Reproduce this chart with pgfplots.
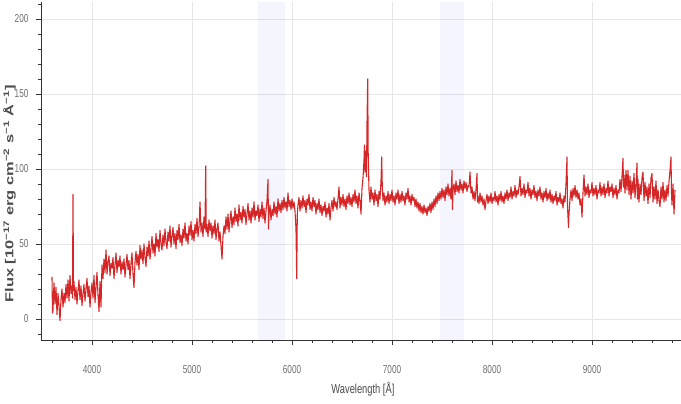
\documentclass[border=0pt]{standalone}
\usepackage{fontspec}
\setmainfont{Liberation Sans}[FakeStretch=0.72]
\newfontfamily\labfont{Liberation Sans}
\usepackage{graphicx}
\usepackage{pgfplots}
\usepackage{pgfplotstable}
\pgfplotsset{compat=1.18}
\definecolor{specred}{HTML}{D62728}
\definecolor{gridgray}{HTML}{E6E6E6}
\definecolor{tickgray}{HTML}{6E6E6E}

\pgfplotstableread{
wl flux
3600 28
3605 4
3610 6
3620 24
3630 10
3640 21
3650 3
3660 17
3670 9
3680 -1
3690 13
3700 20
3710 8
3720 17
3730 11
3740 23
3750 14
3760 26
3770 12
3780 29
3790 17
3800 22
3805 14
3810 83
3815 19
3820 25
3830 13
3840 21
3850 10
3860 19
3870 26
3880 13
3890 22
3900 9
3910 17
3920 23
3930 12
3940 20
3950 27
3960 15
3970 22
3980 8
3990 18
4000 24
4010 14
4020 29
4030 11
4040 21
4050 31
4060 16
4070 5
4080 25
4090 8
4100 36
4110 27
4120 40
4130 31
4140 46
4150 30
4160 38
4170 42
4180 29
4190 37
4200 34
4210 41
4220 27
4230 36
4240 44
4250 31
4260 39
4270 35
4280 42
4290 30
4300 38
4310 33
4320 40
4330 28
4340 36
4350 43
4360 33
4370 39
4380 27
4390 37
4400 44
4410 30
4420 21
4430 38
4440 45
4450 36
4460 43
4470 33
4480 49
4490 40
4500 46
4510 37
4520 50
4530 41
4540 35
4550 48
4560 42
4570 52
4580 40
4590 47
4600 55
4610 44
4620 50
4630 42
4640 57
4650 48
4660 53
4670 45
4680 59
4690 50
4700 46
4710 56
4720 49
4730 60
4740 51
4750 47
4760 58
4770 52
4780 62
4790 48
4800 55
4810 61
4820 50
4830 57
4840 47
4850 59
4860 53
4870 63
4880 51
4890 56
4900 49
4910 60
4920 54
4930 64
4940 52
4950 57
4960 50
4970 62
4980 56
4990 65
5000 53
5010 59
5020 52
5030 63
5040 57
5050 67
5060 55
5070 61
5080 78
5090 58
5100 64
5110 55
5120 68
5130 60
5137 102
5142 58
5150 63
5160 55
5170 66
5180 59
5190 64
5200 54
5210 62
5220 57
5230 66
5240 53
5250 60
5260 64
5270 52
5280 58
5290 49
5300 40
5310 55
5320 62
5330 57
5340 68
5350 60
5360 70
5370 58
5380 66
5390 72
5400 61
5410 68
5420 63
5430 74
5440 65
5450 70
5460 62
5470 76
5480 66
5490 71
5500 64
5510 75
5520 68
5530 73
5540 63
5550 70
5560 77
5570 66
5580 72
5590 64
5600 74
5610 68
5620 78
5630 66
5640 72
5650 69
5660 76
5670 65
5680 73
5690 68
5700 78
5710 67
5720 74
5730 64
5740 72
5750 79
5760 93
5765 60
5770 70
5780 76
5790 66
5800 73
5810 69
5820 78
5830 70
5840 75
5850 68
5860 80
5870 72
5880 77
5890 71
5900 79
5910 73
5920 81
5930 74
5940 78
5950 72
5960 84
5970 75
5980 79
5990 73
6000 80
6010 74
6020 78
6030 72
6040 60
6047 27
6053 70
6060 76
6070 81
6080 72
6090 79
6100 74
6110 82
6120 75
6130 79
6140 71
6150 80
6160 76
6170 83
6180 73
6190 78
6200 72
6210 81
6220 75
6230 79
6240 70
6250 77
6260 73
6270 80
6280 71
6290 76
6300 69
6310 75
6320 72
6330 78
6340 68
6350 74
6360 70
6370 77
6380 66
6390 74
6400 79
6410 72
6420 81
6430 75
6440 78
6450 73
6460 80
6470 88
6480 74
6490 81
6500 76
6510 83
6520 75
6530 80
6540 73
6550 82
6560 77
6570 84
6580 76
6590 81
6600 75
6610 83
6620 78
6630 86
6640 77
6650 82
6660 74
6670 84
6680 79
6690 70
6700 87
6710 94
6720 106
6725 116
6730 98
6740 112
6745 95
6750 130
6757 160
6762 110
6770 86
6780 78
6790 88
6800 80
6810 84
6820 76
6830 86
6840 79
6850 83
6860 75
6870 85
6880 80
6890 92
6897 108
6903 88
6910 79
6920 84
6930 76
6940 82
6950 78
6960 85
6970 77
6980 83
6990 79
7000 86
7010 78
7020 82
7030 76
7040 84
7050 80
7060 86
7070 77
7080 83
7090 78
7100 85
7110 79
7120 82
7130 76
7140 84
7150 80
7160 87
7170 78
7180 82
7190 76
7200 83
7210 79
7220 81
7230 75
7240 80
7250 74
7260 78
7270 72
7280 77
7290 71
7300 75
7310 70
7320 76
7330 71
7340 74
7350 69
7360 75
7370 72
7380 77
7390 71
7400 78
7410 73
7420 80
7430 75
7440 82
7450 77
7460 84
7470 79
7480 85
7490 80
7500 87
7510 81
7520 86
7530 79
7540 88
7550 83
7560 90
7570 82
7580 87
7590 80
7600 99
7605 73
7610 86
7620 90
7630 83
7640 92
7650 85
7660 89
7670 84
7680 93
7690 86
7700 90
7710 84
7720 92
7730 87
7740 91
7750 85
7760 89
7770 88
7780 98
7790 84
7800 88
7810 80
7820 85
7830 79
7840 86
7850 97
7855 78
7860 82
7870 77
7880 84
7890 78
7900 82
7910 76
7920 80
7930 73
7940 79
7950 83
7960 77
7970 82
7980 78
7990 84
8000 77
8010 81
8020 79
8030 85
8040 78
8050 82
8060 76
8070 83
8080 79
8090 85
8100 78
8110 82
8120 77
8130 84
8140 80
8150 86
8160 79
8170 84
8180 81
8190 88
8200 80
8210 85
8220 82
8230 89
8240 81
8250 86
8260 83
8270 88
8280 95
8290 82
8300 87
8310 83
8320 90
8330 81
8340 86
8350 84
8360 91
8370 82
8380 87
8390 80
8400 86
8410 83
8420 89
8430 81
8440 85
8450 79
8460 86
8470 82
8480 88
8490 80
8500 84
8510 78
8520 85
8530 81
8540 87
8550 79
8560 84
8570 80
8580 86
8590 78
8600 83
8610 77
8620 82
8630 79
8640 85
8650 76
8660 81
8670 78
8680 84
8690 77
8700 80
8710 74
8720 82
8730 78
8740 90
8750 108
8755 75
8765 61
8770 70
8780 80
8790 86
8800 79
8810 87
8820 82
8830 89
8840 81
8850 86
8860 80
8870 84
8880 76
8890 80
8900 68
8910 84
8920 96
8930 82
8940 88
8950 83
8960 90
8970 81
8980 86
8990 84
9000 91
9010 82
9020 87
9030 83
9040 89
9050 80
9060 86
9070 84
9080 91
9090 82
9100 88
9110 83
9120 90
9130 81
9140 87
9150 84
9160 92
9170 82
9180 88
9190 85
9200 90
9210 81
9220 87
9230 83
9240 89
9250 80
9260 86
9270 84
9280 93
9290 85
9300 95
9310 107
9315 88
9320 96
9330 84
9340 99
9350 86
9360 99
9370 83
9380 95
9390 80
9400 92
9410 84
9420 97
9430 81
9440 89
9450 104
9455 80
9460 93
9470 78
9480 90
9490 83
9500 94
9510 98
9520 79
9530 91
9540 82
9550 88
9560 77
9570 90
9580 81
9590 94
9600 97
9610 78
9620 88
9630 80
9640 92
9650 77
9660 86
9670 79
9680 75
9690 88
9700 80
9710 91
9720 78
9730 86
9740 79
9750 89
9760 82
9770 92
9780 99
9790 108
9795 84
9800 76
9810 90
9820 70
9830 86
}\spec

\begin{document}
\begin{tikzpicture}
\begin{axis}[
    name=ax,
    scale only axis,
    width=640bp, height=338bp,
    xmin=3490, xmax=9890, ymin=-14, ymax=211.3,
    axis lines=left,
    axis line style={-, black!80, line width=0.9bp},
    xtick={4000,5000,...,9000},
    ytick={0,50,...,200},
    minor xtick={3600,3800,...,9800},
    minor ytick={-10,0,...,210},
    tick align=outside,
    major tick length=5bp, minor tick length=3bp,
    every tick/.style={black!80, line width=0.8bp},
    grid=major,
    major grid style={gridgray, line width=0.8bp},
    /pgf/number format/assume math mode=true,
    /pgf/number format/set thousands separator={},
    tick label style={font=\fontsize{11.5}{12}\selectfont, text=tickgray},
    xticklabel style={anchor=north, yshift=-17bp},
    yticklabel style={anchor=east, xshift=-4bp},
    xlabel={Wavelength [Å]},
    xlabel style={font=\fontsize{13}{14}\selectfont, text=black!72,
      at={(rel axis cs:0.503,0)}, anchor=center, yshift=-49bp},
    ylabel={\scalebox{1}[0.7]{Flux [10\textsuperscript{−17} erg cm\textsuperscript{−2} s\textsuperscript{−1} Å\textsuperscript{−1}]}},
    ylabel style={font=\labfont\bfseries\fontsize{16.5}{17}\selectfont, text=black!70,
      at={(rel axis cs:-0.049,0.432)}, anchor=center},
  ]
  \addplot[draw=none, fill=blue, fill opacity=0.04] coordinates
    {(5660,-14) (5926,-14) (5926,211.3) (5660,211.3)} -- cycle;
  \addplot[draw=none, fill=blue, fill opacity=0.04] coordinates
    {(7475,-14) (7715,-14) (7715,211.3) (7475,211.3)} -- cycle;
  \addplot[specred, line width=1.1bp, line join=round] table[x=wl, y=flux] {\spec};
\end{axis}
\pgfresetboundingbox
\path (ax.south west) ++(-41bp,-63bp) rectangle ([yshift=2bp]ax.north east);
\end{tikzpicture}
\end{document}
